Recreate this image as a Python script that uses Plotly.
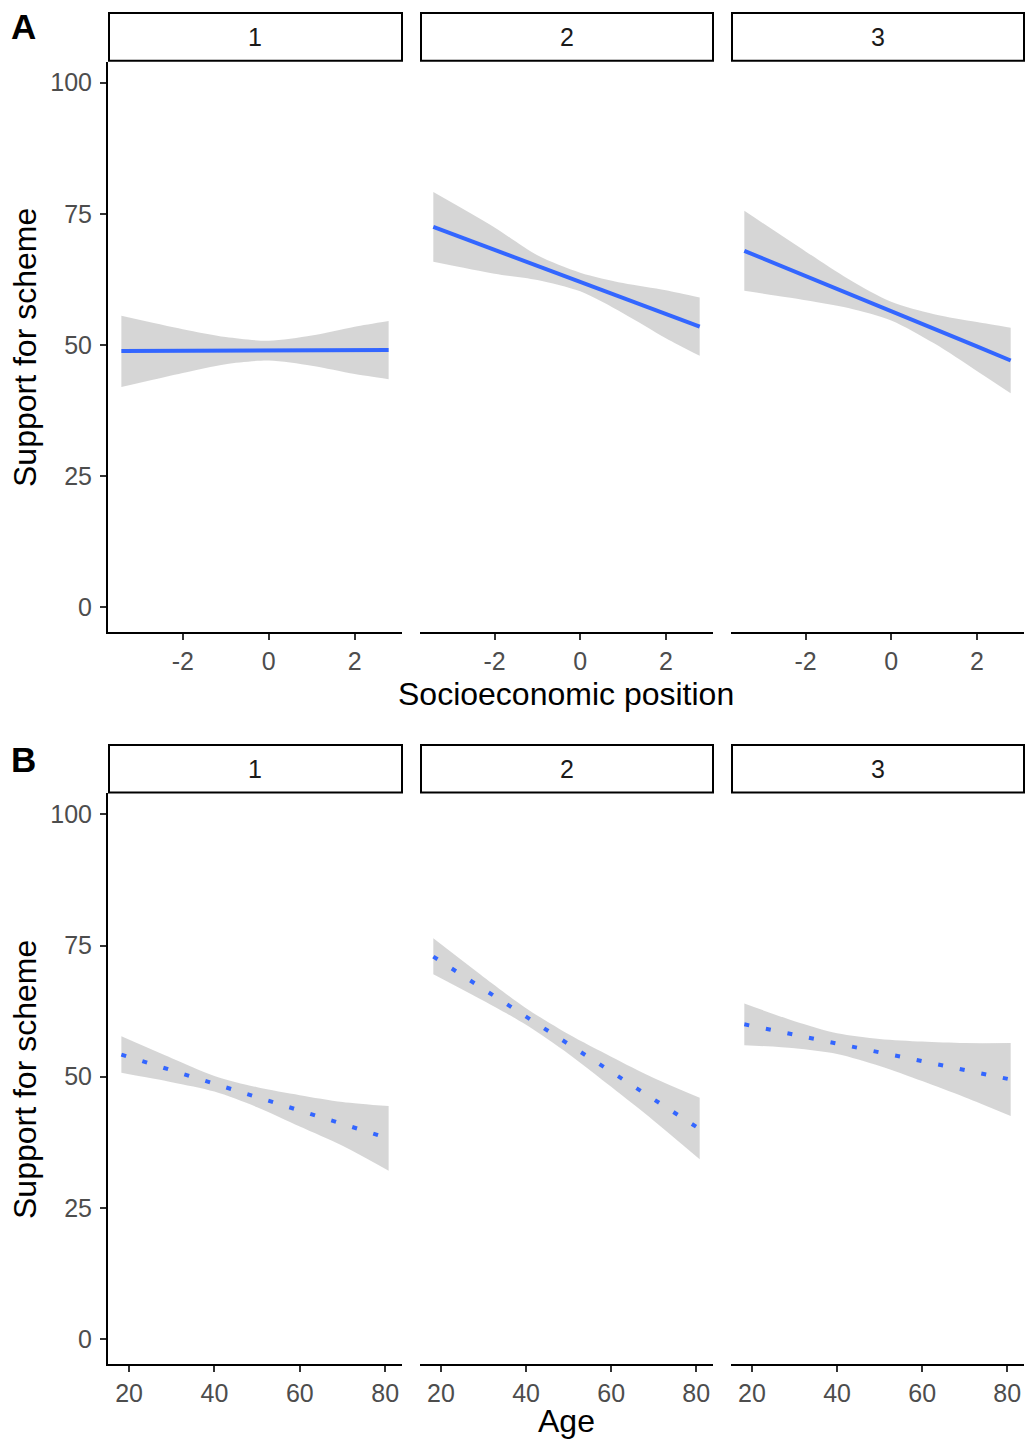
import plotly.graph_objects as go

# ---------------- data ----------------
panels = ["1", "2", "3"]

sep_x = [-3.43, -2, -1, 0, 1, 2, 2.79]
sep_fit = [
    [48.84, 48.89, 48.93, 48.93, 48.98, 49.03, 49.03],
    [72.51, 68.15, 65.08, 62.01, 58.94, 55.87, 53.49],
    [67.95, 63.20, 59.83, 56.46, 53.10, 49.73, 47.05],
]
sep_lo = [
    [42.00, 44.68, 46.36, 47.05, 46.06, 44.48, 43.49],
    [65.87, 63.59, 62.40, 60.23, 56.07, 51.31, 47.94],
    [60.33, 58.54, 57.06, 54.68, 50.32, 45.07, 40.81],
]
sep_hi = [
    [55.57, 53.00, 51.51, 50.82, 51.81, 53.49, 54.58],
    [79.15, 72.40, 67.10, 63.79, 61.81, 60.42, 59.04],
    [75.58, 67.85, 62.60, 58.24, 55.87, 54.38, 53.29],
]

age_x = [18.2, 30, 40, 50, 60, 70, 80.8]
age_fit = [
    [54.23, 51.25, 48.67, 46.09, 43.51, 41.02, 38.24],
    [72.90, 66.74, 61.48, 56.22, 50.96, 45.69, 40.03],
    [59.99, 58.01, 56.32, 54.63, 52.94, 51.25, 49.47],
]
age_lo = [
    [50.76, 48.97, 47.18, 44.20, 40.53, 36.85, 32.09],
    [69.53, 64.46, 59.89, 54.33, 48.07, 41.62, 34.27],
    [56.02, 55.42, 54.33, 52.05, 49.17, 46.09, 42.51],
]
age_hi = [
    [57.71, 53.54, 50.16, 47.98, 46.49, 45.19, 44.40],
    [76.38, 69.03, 63.07, 58.10, 53.83, 49.76, 45.99],
    [63.96, 60.59, 58.30, 57.21, 56.71, 56.42, 56.42],
]

y_ticks = [0, 25, 50, 75, 100]
y_ticktext = ["0", "25", "50", "75", "100"]
sep_ticks = [-2, 0, 2]
sep_ticktext = ["-2", "0", "2"]
age_ticks = [20, 40, 60, 80]
age_ticktext = ["20", "40", "60", "80"]

# ---------------- layout geometry (pixels) ----------------
W, H = 1025, 1441
col_l = [108, 420, 731]
col_r = [402, 713, 1024]
row_top = [61.7, 793.4]
row_bot = [632.3, 1364.0]
strip_top = [12, 744]
y_range = [-4.75, 104.0]
sep_range = [-3.741, 3.101]
age_range = [15.07, 83.93]

FONT = "Liberation Sans, Arial, Helvetica, sans-serif"
BLUE = "#3366FF"
BAND = "rgba(153,153,153,0.4)"

fig = go.Figure()
layout = dict(
    width=W, height=H,
    margin=dict(l=0, r=0, t=0, b=0),
    paper_bgcolor="white", plot_bgcolor="white",
    showlegend=False,
    font=dict(family=FONT),
)

shapes = []
annotations = []

for row in range(2):
    if row == 0:
        xs, fits, los, his = sep_x, sep_fit, sep_lo, sep_hi
        xrng, xt, xtt = sep_range, sep_ticks, sep_ticktext
        dash = "solid"
    else:
        xs, fits, los, his = age_x, age_fit, age_lo, age_hi
        xrng, xt, xtt = age_range, age_ticks, age_ticktext
        dash = "5px,17px"
    for col in range(3):
        k = row * 3 + col + 1
        xa = "x" if k == 1 else f"x{k}"
        ya = "y" if k == 1 else f"y{k}"
        # band
        fig.add_trace(go.Scatter(x=xs, y=los[col], mode="lines",
                                 line=dict(width=0, shape="spline", smoothing=0.8),
                                 xaxis=xa, yaxis=ya, hoverinfo="skip"))
        fig.add_trace(go.Scatter(x=xs, y=his[col], mode="lines",
                                 line=dict(width=0, shape="spline", smoothing=0.8),
                                 fill="tonexty", fillcolor=BAND,
                                 xaxis=xa, yaxis=ya, hoverinfo="skip"))
        # fit line
        fig.add_trace(go.Scatter(x=xs, y=fits[col], mode="lines",
                                 line=dict(color=BLUE, width=4, dash=dash),
                                 xaxis=xa, yaxis=ya))

        xkey = "xaxis" if k == 1 else f"xaxis{k}"
        ykey = "yaxis" if k == 1 else f"yaxis{k}"
        layout[xkey] = dict(
            domain=[col_l[col] / W, col_r[col] / W],
            anchor=ya, range=xrng,
            tickmode="array", tickvals=xt, ticktext=xtt,
            showline=True, linecolor="black", linewidth=2,
            ticks="outside", ticklen=6, tickwidth=2, tickcolor="#333333",
            tickfont=dict(size=25, color="#4D4D4D", family=FONT),
            showgrid=False, zeroline=False,
        )
        ydict = dict(
            domain=[1 - row_bot[row] / H, 1 - row_top[row] / H],
            anchor=xa, range=y_range,
            showgrid=False, zeroline=False,
        )
        if col == 0:
            ydict.update(
                tickmode="array", tickvals=y_ticks, ticktext=y_ticktext,
                showline=True, linecolor="black", linewidth=2,
                ticks="outside", ticklen=6, tickwidth=2, tickcolor="#333333",
                tickfont=dict(size=25, color="#4D4D4D", family=FONT),
                ticklabelstandoff=3,
            )
        else:
            ydict.update(showline=False, showticklabels=False, ticks="")
        layout[ykey] = ydict

        # strip
        shapes.append(dict(
            type="rect", xref="paper", yref="paper",
            x0=(col_l[col] + 1) / W, x1=(col_r[col]) / W,
            y0=1 - (row_top[row] - 1) / H, y1=1 - (strip_top[row] + 1) / H,
            line=dict(color="black", width=2), fillcolor="white", layer="above",
        ))
        annotations.append(dict(
            text=panels[col], xref="paper", yref="paper",
            x=(col_l[col] + col_r[col]) / 2 / W,
            y=1 - (strip_top[row] + row_top[row]) / 2 / H,
            xanchor="center", yanchor="middle", showarrow=False,
            font=dict(size=25, color="#1A1A1A", family=FONT),
        ))

# axis titles
annotations += [
    dict(text="Socioeconomic position", xref="paper", yref="paper",
         x=566 / W, y=1 - 694 / H, xanchor="center", yanchor="middle",
         showarrow=False, font=dict(size=32, color="black", family=FONT)),
    dict(text="Age", xref="paper", yref="paper",
         x=566 / W, y=1 - 1421 / H, xanchor="center", yanchor="middle",
         showarrow=False, font=dict(size=32, color="black", family=FONT)),
    dict(text="Support for scheme", xref="paper", yref="paper",
         x=25 / W, y=1 - 348 / H, xanchor="center", yanchor="middle",
         textangle=-90, showarrow=False,
         font=dict(size=32, color="black", family=FONT)),
    dict(text="Support for scheme", xref="paper", yref="paper",
         x=25 / W, y=1 - 1080 / H, xanchor="center", yanchor="middle",
         textangle=-90, showarrow=False,
         font=dict(size=32, color="black", family=FONT)),
    dict(text="<b>A</b>", xref="paper", yref="paper",
         x=9 / W, y=1 - 27 / H, xanchor="left", yanchor="middle",
         showarrow=False, font=dict(size=35, color="black", family=FONT)),
    dict(text="<b>B</b>", xref="paper", yref="paper",
         x=9 / W, y=1 - 759 / H, xanchor="left", yanchor="middle",
         showarrow=False, font=dict(size=35, color="black", family=FONT)),
]

layout["shapes"] = shapes
layout["annotations"] = annotations
fig.update_layout(**layout)

fig.write_html("out.html")
